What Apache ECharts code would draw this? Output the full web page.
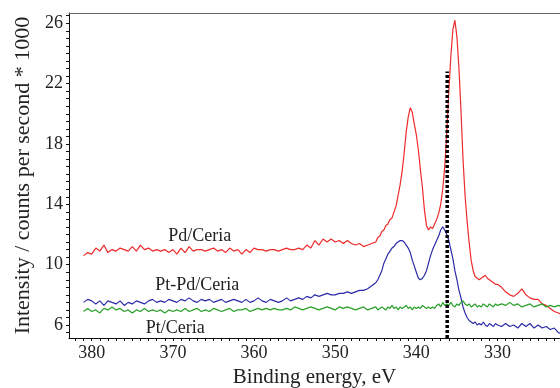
<!DOCTYPE html>
<html>
<head>
<meta charset="utf-8">
<script src="https://cdn.jsdelivr.net/npm/echarts@6/dist/echarts.min.js"></script>
<style>
  html, body { margin: 0; padding: 0; background: #fff; }
  #chart { width: 560px; height: 388px; }
</style>
</head>
<body>
<div id="chart"></div>
<script>
// Binding energies (eV), shared by all three spectra
const energy = [
  381, 380.5, 380, 379.5, 379, 378.5, 378, 377.5, 377, 376.5,
  376, 375.5, 375, 374.5, 374, 373.5, 373, 372.5, 372, 371.5,
  371, 370.5, 370, 369.5, 369, 368.5, 368, 367.5, 367, 366.5,
  366, 365.5, 365, 364.5, 364, 363.5, 363, 362.5, 362, 361.5,
  361, 360.5, 360, 359.5, 359, 358.5, 358, 357.5, 357, 356.5,
  356, 355.5, 355, 354.5, 354, 353.5, 353, 352.5, 352, 351.5,
  351, 350.5, 350, 349.5, 349, 348.5, 348, 347.5, 347, 346.5,
  346, 345.5,
  345, 344.75, 344.5, 344.25, 344, 343.75, 343.5, 343.25, 343, 342.75,
  342.5, 342.25, 342, 341.75, 341.5, 341.25, 341, 340.75, 340.5, 340.25,
  340, 339.75, 339.5, 339.25, 339, 338.75, 338.5, 338.25, 338, 337.75,
  337.5, 337.25, 337, 336.75, 336.5, 336.25, 336, 335.75, 335.5, 335.25,
  335, 334.75, 334.5, 334.25, 334, 333.75, 333.5, 333.25, 333, 332.75,
  332.5, 332.25, 332, 331.75, 331.5, 331.25, 331, 330.75, 330.5, 330.25,
  330, 329.5, 329, 328.5, 328, 327.5, 327, 326.5, 326, 325.5,
  325, 324.5, 324, 323.5, 323, 322.5, 322
];

// Intensity, counts per second * 1000
const pdCeria = [
  10.6, 10.8, 10.7, 11.1, 10.9, 11.3, 10.8, 11.0, 10.9, 11.1,
  11.0, 10.9, 11.2, 10.9, 11.3, 11.0, 11.1, 10.9, 11.0, 10.9,
  11.0, 10.8, 11.0, 10.7, 11.1, 10.8, 11.2, 10.9, 11.0, 11.0,
  10.9, 11.0, 11.1, 10.9, 11.0, 10.8, 11.1, 10.9, 11.0, 10.7,
  11.0, 10.8, 11.1, 11.0, 11.0, 10.9, 11.0, 11.0, 10.9, 11.0,
  11.1, 11.0, 11.0, 11.1, 11.0, 11.3, 11.1, 11.6, 11.3, 11.7,
  11.5, 11.7, 11.5, 11.6, 11.4, 11.6, 11.4, 11.3, 11.4, 11.2,
  11.3, 11.4,
  11.5, 11.8, 11.9, 12.2, 12.3, 12.6, 12.7, 13.0, 13.1, 13.5,
  13.9, 14.6, 15.3, 16.2, 17.4, 18.8, 19.8, 20.4, 20.1, 19.3,
  18.6, 17.6, 16.3, 15.1, 13.6, 12.6, 12.3, 12.5, 12.4, 12.7,
  13.0, 13.4, 14.0, 15.0, 16.5, 18.8, 21.5, 23.8, 25.6, 26.2,
  25.1, 23.0, 20.2, 17.0, 14.6, 12.9, 11.5, 10.3, 9.6, 9.2,
  9.1, 9.0, 9.1, 9.2, 9.3, 9.1, 9.0, 8.9, 8.8, 8.7,
  8.7, 8.5, 8.2, 8.0, 7.9, 8.1, 8.4, 8.0, 7.8, 7.7,
  7.7, 7.4, 7.3, 7.1, 6.9, 6.8, 6.7
];

const ptPdCeria = [
  7.5, 7.7, 7.6, 7.4, 7.6, 7.3, 7.6, 7.5, 7.4, 7.6,
  7.3, 7.5, 7.4, 7.6, 7.5, 7.4, 7.6, 7.7, 7.5, 7.6,
  7.5, 7.7, 7.6, 7.5, 7.7, 7.6, 7.8, 7.6, 7.5, 7.7,
  7.6, 7.7, 7.5, 7.6, 7.7, 7.5, 7.6, 7.7, 7.6, 7.5,
  7.7, 7.5, 7.6, 7.8, 7.6, 7.5, 7.7, 7.6, 7.5, 7.6,
  7.8, 7.6, 7.7, 7.8, 7.7, 7.9, 7.8, 8.0, 7.9, 8.0,
  8.1, 8.0, 8.0, 8.1, 8.1, 8.2, 8.1, 8.2, 8.3, 8.3,
  8.4, 8.6,
  8.8, 9.0, 9.3, 9.6, 10.1, 10.4, 10.7, 10.9, 11.1, 11.2,
  11.4, 11.5, 11.6, 11.6, 11.5, 11.3, 11.1, 10.8, 10.3, 9.9,
  9.5, 9.1, 9.0, 9.1, 9.3, 9.6, 10.1, 10.6, 11.0, 11.3,
  11.6, 11.9, 12.3, 12.5, 12.3, 12.0, 11.6, 11.0, 10.4, 9.6,
  9.0, 8.3, 7.8, 7.2, 6.8, 6.5, 6.3, 6.2, 6.1, 6.2,
  6.0, 6.1, 6.0, 6.2, 6.0, 5.9, 6.1, 6.0, 5.9, 6.1,
  6.0, 5.9, 6.1, 5.9, 6.0, 5.8, 6.1, 5.9, 6.1, 5.8,
  6.0, 5.8, 5.9, 5.7, 5.8, 5.5, 5.4
];

const ptCeria = [
  6.9, 7.1, 6.9, 7.0, 6.8, 7.1, 7.0, 7.2, 7.0, 7.1,
  6.9, 7.0, 6.8, 7.0, 6.9, 7.1, 6.9, 7.0, 6.9, 7.0,
  6.8, 7.0, 6.9, 7.0, 6.9, 7.1, 6.9, 7.0, 7.1, 6.9,
  7.0, 6.9, 7.1, 7.0, 6.9, 7.0, 7.1, 6.9, 7.0, 7.0,
  7.1, 6.9, 7.0, 7.1, 7.0, 7.1, 7.0, 7.1, 7.0, 7.0,
  7.1, 7.0, 7.2, 7.1, 7.0, 7.1, 7.2, 7.1, 7.0, 7.1,
  7.2, 7.1, 7.0, 7.2, 7.1, 7.2, 7.1, 7.0, 7.1, 7.2,
  7.0, 7.1,
  7.2, 7.0, 7.1, 7.2, 7.1, 7.0, 7.2, 7.1, 7.3, 7.1,
  7.2, 7.0, 7.2, 7.1, 7.2, 7.3, 7.1, 7.2, 7.0, 7.2,
  7.1, 7.2, 7.1, 7.3, 7.2, 7.1, 7.2, 7.1, 7.2, 7.1,
  7.3, 7.4, 7.2, 7.5, 7.3, 7.4, 7.3, 7.5, 7.3, 7.2,
  7.4, 7.3, 7.5, 7.6, 7.4, 7.3, 7.4, 7.2, 7.3, 7.4,
  7.2, 7.3, 7.2, 7.4, 7.3, 7.2, 7.4, 7.3, 7.2, 7.4,
  7.3, 7.4, 7.3, 7.5, 7.3, 7.4, 7.2, 7.3, 7.4, 7.2,
  7.3, 7.4, 7.2, 7.3, 7.2, 7.3, 7.2
];

// Tick labels
const xTickLabels = [380, 370, 360, 350, 340, 330];
const yTickLabels = [6, 10, 14, 18, 22, 26];

// Reference binding energy marker (dotted vertical line)
const refEnergy = 336.2;
const refTop = 22.8;

const xMin = 322.3, xMax = 382.8;
const yMin = 5.14, yMax = 26.68;

// Small ticks: every 1 eV along x, every 0.5 along y
const xMinorTicks = [];
for (let e = 323; e <= 382; e += 1) xMinorTicks.push(e);
const yMinorTicks = [];
for (let v = 5.5; v <= 26.5; v += 0.5) yMinorTicks.push(v);

const pairs = (ys) => energy.map((e, i) => [e, ys[i]]);

const serif = '"Liberation Serif", "DejaVu Serif", serif';
const ink = '#222';

function tag(text, coord) {
  return {
    coord: coord,
    symbol: 'circle',
    symbolSize: 0,
    label: {
      show: true, formatter: text, position: 'inside',
      fontFamily: serif, fontSize: 18, color: ink
    }
  };
}

const chart = echarts.init(document.getElementById('chart'), null, { renderer: 'canvas' });

chart.setOption({
  animation: false,
  backgroundColor: '#fff',
  grid: { left: 69, right: 0, top: 13, bottom: 50, containLabel: false, outerBoundsMode: 'none' },
  xAxis: [{
    type: 'value', inverse: true, min: xMin, max: xMax, position: 'bottom',
    axisLine: { show: true, onZero: false, lineStyle: { color: '#111', width: 1 } },
    axisTick: { show: true, customValues: xMinorTicks, length: 3, lineStyle: { color: '#111' } },
    axisLabel: { customValues: xTickLabels, fontFamily: serif, fontSize: 18, color: ink, margin: 6 },
    splitLine: { show: false },
    name: 'Binding energy, eV', nameLocation: 'middle', nameGap: 28,
    nameTextStyle: { fontFamily: serif, fontSize: 21, color: ink }
  }, {
    type: 'value', inverse: true, min: xMin, max: xMax, position: 'top',
    axisLine: { show: true, onZero: false, lineStyle: { color: '#666', width: 1 } },
    axisTick: { show: false }, axisLabel: { show: false }, splitLine: { show: false }
  }],
  yAxis: {
    type: 'value', min: yMin, max: yMax,
    axisLine: { show: true, onZero: false, lineStyle: { color: '#111', width: 1 } },
    axisTick: { show: true, customValues: yMinorTicks, length: 3, lineStyle: { color: '#111' } },
    axisLabel: { customValues: yTickLabels, fontFamily: serif, fontSize: 18, color: ink, margin: 6 },
    splitLine: { show: false },
    name: 'Intensity / counts per second * 1000', nameLocation: 'middle', nameGap: 29,
    nameTextStyle: { fontFamily: serif, fontSize: 22, color: ink }
  },
  series: [{
    name: 'Pd/Ceria', type: 'line', data: pairs(pdCeria), showSymbol: false,
    lineStyle: { color: '#ee2b2b', width: 1.2 }, itemStyle: { color: '#ee2b2b' },
    markPoint: { silent: true, data: [tag('Pd/Ceria', [366.7, 11.9])] }
  }, {
    name: 'Pt-Pd/Ceria', type: 'line', data: pairs(ptPdCeria), showSymbol: false,
    lineStyle: { color: '#2b2ba8', width: 1.2 }, itemStyle: { color: '#2b2ba8' },
    markPoint: { silent: true, data: [tag('Pt-Pd/Ceria', [367.0, 8.65])] }
  }, {
    name: 'Pt/Ceria', type: 'line', data: pairs(ptCeria), showSymbol: false,
    lineStyle: { color: '#2aa02a', width: 1.2 }, itemStyle: { color: '#2aa02a' },
    markPoint: { silent: true, data: [tag('Pt/Ceria', [369.7, 5.8])] }
  }, {
    name: 'reference', type: 'line', showSymbol: false,
    data: [[refEnergy, yMin], [refEnergy, refTop]],
    lineStyle: { color: '#000', width: 3.5, type: [3, 2] }
  }]
});
</script>
</body>
</html>
